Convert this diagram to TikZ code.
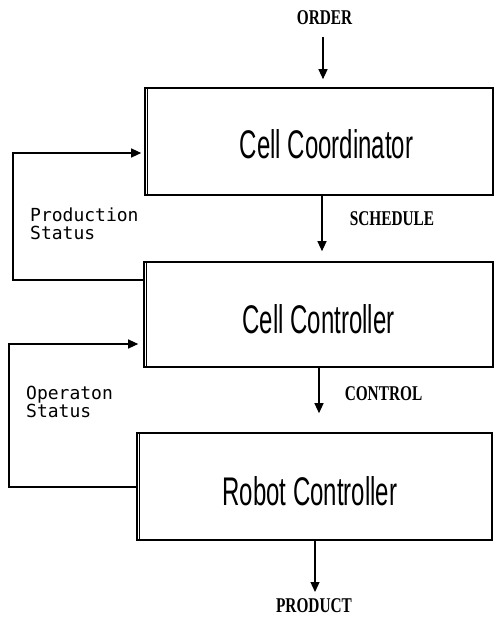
\documentclass[tikz,border=0pt]{standalone}
\usepackage{fontspec}
\setmainfont{Liberation Sans}
\newfontfamily\monofam{DejaVu Sans Mono}
\newfontfamily\labelfam{Liberation Serif}
\usetikzlibrary{arrows.meta}

% condensed box captions and flow labels
\newcommand\boxtxt[1]{\scalebox{0.6}[1]{\fontsize{40}{44}\selectfont #1}}
\newcommand\flowtxt[1]{\scalebox{0.73}[1]{\labelfam\bfseries\fontsize{21}{24}\selectfont #1}}

\tikzset{
  cellbox/.style={draw, line width=1.6pt, rectangle, inner sep=0pt},
  boxcap/.style={anchor=base, inner sep=0pt},
  flowlbl/.style={anchor=base, inner sep=0pt},
  statuslbl/.style={anchor=north west, inner sep=0pt, align=left,
    font=\monofam\fontsize{18}{18}\selectfont},
  flow/.style={line width=1.2pt, -{Triangle[length=10pt,width=9pt]}},
  edge2/.style={line width=0.9pt}
}

\begin{document}
\begin{tikzpicture}[x=1pt,y=-1pt]
\useasboundingbox (0,0) rectangle (495,623);

% the three levels of the hierarchy
\node[cellbox, minimum width=348pt, minimum height=107pt] (cc)  at (319,141.5) {};
\node[cellbox, minimum width=349pt, minimum height=105pt] (ctl) at (318.5,314.5) {};
\node[cellbox, minimum width=355pt, minimum height=107pt] (rc)  at (314.5,486.5) {};

% inner rule along the left side of each frame
\foreach \b in {cc,ctl,rc}
  \draw[edge2] ([xshift=3.5pt]\b.north west) -- ([xshift=3.5pt]\b.south west);

\node[boxcap] (ccCap)  at (326.5,158) {\boxtxt{Cell Coordinator}};
\node[boxcap] (ctlCap) at (318.5,333) {\boxtxt{Cell Controller}};
\node[boxcap] (rcCap)  at (310,505)   {\boxtxt{Robot Controller}};

% flow labels
\node[flowlbl] (orderLbl) at (324.5,25)  {\flowtxt{ORDER}};
\node[flowlbl] (schedLbl) at (392,225)   {\flowtxt{SCHEDULE}};
\node[flowlbl] (ctrlLbl)  at (383.5,400) {\flowtxt{CONTROL}};
\node[flowlbl] (prodLbl)  at (314,612)   {\flowtxt{PRODUCT}};

\node[statuslbl] (prodStat) at (30,208) {Production\\Status};
\node[statuslbl] (opStat)   at (26,386) {Operaton\\Status};

% downward flow
\coordinate (orderTail) at (323,37);
\coordinate (schedX) at (322,0);
\coordinate (ctrlX) at (319,0);
\coordinate (prodTip) at (315,592);

\draw[flow, shorten >=8pt] (orderTail) -- (orderTail |- cc.north);
\draw[flow, shorten >=10pt] (cc.south -| schedX) -- (ctl.north -| schedX);
\draw[flow, shorten >=19pt] (ctl.south -| ctrlX) -- (rc.north -| ctrlX);
\draw[flow] (rc.south -| prodTip) -- (prodTip);

% status feedback loops
\coordinate (fbA) at (13,280);
\coordinate (fbB) at (13,153);
\coordinate (fbC) at (9,487);
\coordinate (fbD) at (9,344);

\draw[flow, shorten >=3pt] (ctl.west |- fbA) -- (fbA) -- (fbB) -- (cc.west |- fbB);
\draw[flow, shorten >=5pt] (rc.west |- fbC) -- (fbC) -- (fbD) -- (ctl.west |- fbD);
\end{tikzpicture}
\end{document}
